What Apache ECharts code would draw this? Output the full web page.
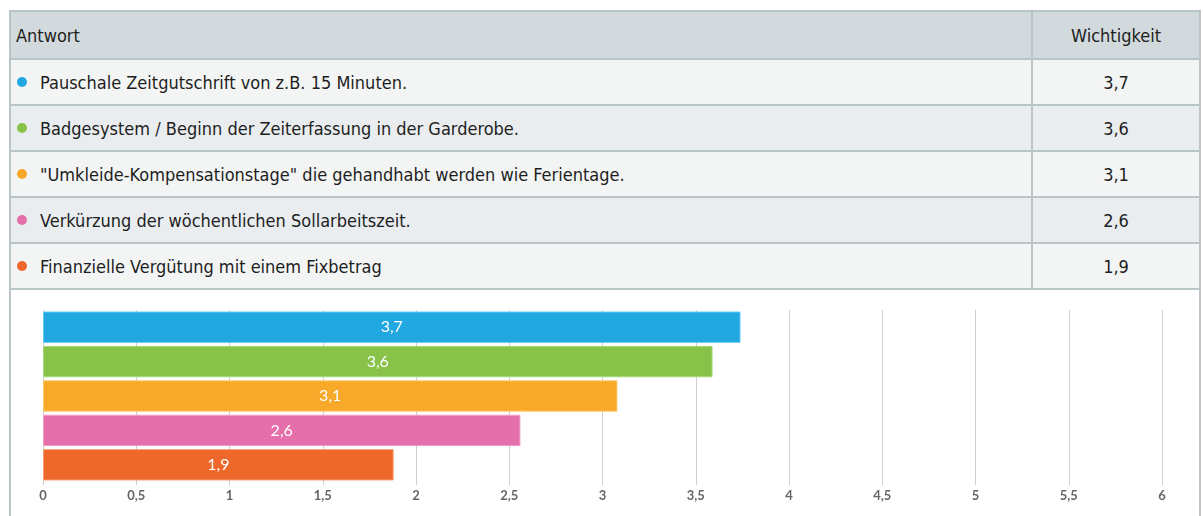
<!DOCTYPE html>
<html>
<head>
<meta charset="utf-8">
<script src="https://cdn.jsdelivr.net/npm/echarts@6/dist/echarts.min.js"></script>
<style>
  html, body { margin: 0; padding: 0; background: #fff; width: 1203px; height: 516px; overflow: hidden; }
  body { font-family: "DejaVu Sans Condensed", "Noto Sans", sans-serif; color: #1e1e1e; }
  #box { position: absolute; left: 9px; top: 10px; width: 1188px; height: 520px; border: 2px solid #b9c5c7; border-bottom: none; }
  table { border-collapse: collapse; width: 100%; font-size: 18px; }
  th, td { border: 2px solid #b9c5c7; height: 44px; padding: 0; }
  th { background: #d2dadd; font-weight: normal; text-align: left; height: 46px; }
  th:first-child, td:first-child { padding-left: 5px; border-left: none; }
  th:last-child, td:last-child { width: 166px; text-align: center; border-right: none; }
  tr:first-child th { border-top: none; }
  tbody tr:nth-child(odd) td { background: #f3f5f5; }
  tbody tr:nth-child(even) td { background: #e9edef; }
  .dot { display: inline-block; width: 10px; height: 10px; border-radius: 50%; margin: 0 13px 3px 1px; vertical-align: middle; }
  #chart { position: absolute; left: 0; top: 288px; width: 1203px; height: 228px; }
</style>
</head>
<body>
<div id="box">
  <table>
    <thead><tr><th>Antwort</th><th>Wichtigkeit</th></tr></thead>
    <tbody id="rows"></tbody>
  </table>
</div>
<div id="chart"></div>
<script>
// Antworten und Werte
const answers = [
    'Pauschale Zeitgutschrift von z.B. 15 Minuten.',
    'Badgesystem / Beginn der Zeiterfassung in der Garderobe.',
    '"Umkleide-Kompensationstage" die gehandhabt werden wie Ferientage.',
    'Verkürzung der wöchentlichen Sollarbeitszeit.',
    'Finanzielle Vergütung mit einem Fixbetrag'
];
const scores = [3.74, 3.59, 3.08, 2.56, 1.88];
const colors = ['#21a8e0', '#88c249', '#f9a92a', '#e56faa', '#ee672b'];
const borderColors = ['#5ccaf5', '#a6d978', '#fcc86a', '#f29cc8', '#f79a6a'];
const xTicks = [0, 0.5, 1, 1.5, 2, 2.5, 3, 3.5, 4, 4.5, 5, 5.5, 6];

function fmt(v) {
    return String(v).replace('.', ',');
}

// Tabelle füllen
const tbody = document.getElementById('rows');
answers.forEach((a, i) => {
    const tr = document.createElement('tr');
    const txt = a.replace(/&/g, '&amp;').replace(/</g, '&lt;');
    tr.innerHTML = `<td><span class="dot" style="background:${colors[i]}"></span>${txt}</td>
        <td>${fmt(scores[i].toFixed(1))}</td>`;
    tbody.appendChild(tr);
});

// Balkendiagramm
const chart = echarts.init(document.getElementById('chart'));
chart.setOption({
    animation: false,
    grid: { left: 43, right: 41, top: 22, bottom: 34 },
    xAxis: {
        type: 'value',
        min: xTicks[0],
        max: xTicks[xTicks.length - 1],
        interval: 0.5,
        axisLine: { show: false },
        axisTick: { show: true, length: 3, lineStyle: { color: '#ccc' } },
        splitLine: { show: true, lineStyle: { color: '#cfcfcf', width: 1 } },
        axisLabel: {
            color: '#666', fontSize: 13, fontWeight: 'bold', margin: 7,
            fontFamily: 'Lato, sans-serif',
            formatter: v => fmt(v)
        }
    },
    yAxis: {
        type: 'category',
        inverse: true,
        data: answers,
        axisLine: { show: false },
        axisTick: { show: false },
        axisLabel: { show: false }
    },
    series: [{
        type: 'bar',
        barCategoryGap: '9%',
        data: scores.map((v, i) => ({
            value: v,
            itemStyle: { color: colors[i], borderColor: borderColors[i], borderWidth: 1 }
        })),
        label: {
            show: true,
            position: 'inside',
            color: '#fff',
            fontSize: 16,
            fontFamily: 'Lato, sans-serif',
            formatter: p => fmt(p.value.toFixed(1))
        }
    }]
});
</script>
</body>
</html>
